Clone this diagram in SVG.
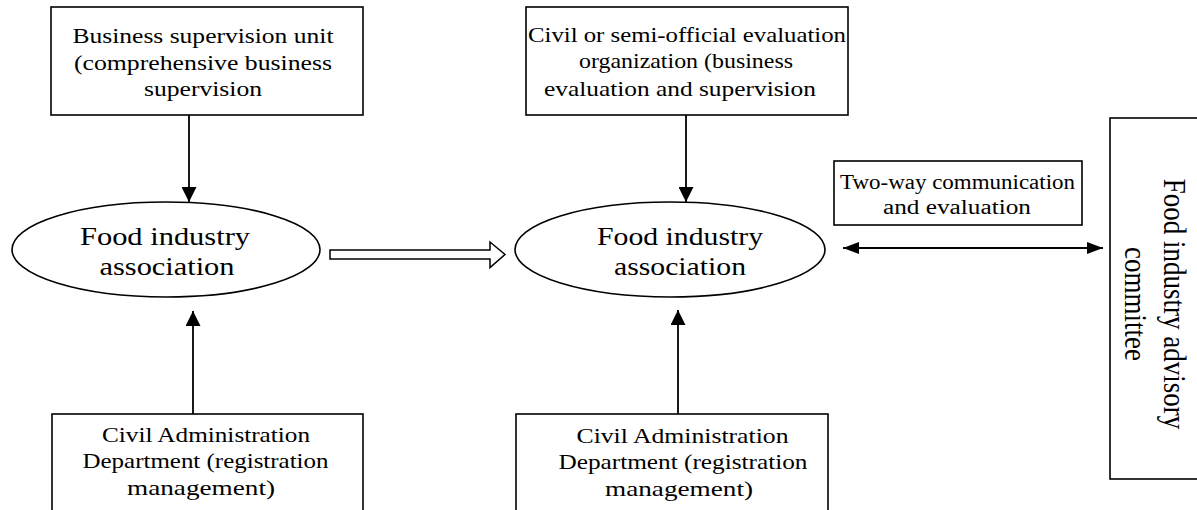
<svg xmlns="http://www.w3.org/2000/svg" width="1197" height="510" viewBox="0 0 1197 510">
  <style>
    .box { fill: #fff; stroke: #000; stroke-width: 1.6; }
    .ell { fill: #fff; stroke: #000; stroke-width: 1.6; }
    .t { font-family: "Liberation Serif", "Times New Roman", serif; fill: #000; text-anchor: middle; }
    .s21 { font-size: 21px; }
    .s20 { font-size: 20px; }
    .s26 { font-size: 26px; }
    .conn { stroke: #000; stroke-width: 1.8; fill: none; }
  </style>
  <defs>
    <marker id="ah" viewBox="0 0 10 10" refX="10" refY="5" markerUnits="userSpaceOnUse" markerWidth="15" markerHeight="15" orient="auto-start-reverse">
      <path d="M0,0 L10,5 L0,10 z" fill="#000"/>
    </marker>
    <marker id="ah2" viewBox="0 0 10 10" refX="10" refY="5" markerUnits="userSpaceOnUse" markerWidth="16" markerHeight="12" orient="auto-start-reverse" preserveAspectRatio="none">
      <path d="M0,0 L10,5 L0,10 z" fill="#000"/>
    </marker>
  </defs>

  <g id="connectors">
    <line class="conn" x1="189" y1="115" x2="189" y2="202" marker-end="url(#ah)"/>
    <line class="conn" x1="686" y1="115" x2="686" y2="202" marker-end="url(#ah)"/>
    <line class="conn" x1="193" y1="414" x2="193" y2="311" marker-end="url(#ah)"/>
    <line class="conn" x1="678" y1="414" x2="678" y2="310" marker-end="url(#ah)"/>
    <line class="conn" x1="843" y1="248" x2="1103" y2="248" marker-start="url(#ah2)" marker-end="url(#ah2)"/>
    <polygon points="330,250 490,250 490,242 505,254.5 490,267.5 490,259 330,259" fill="#fff" stroke="#000" stroke-width="1.5" stroke-linejoin="miter"/>
  </g>

  <g id="business-supervision-unit">
    <rect class="box" x="51" y="7" width="312" height="108"/>
    <text class="t s21" x="203" y="43" textLength="261" lengthAdjust="spacingAndGlyphs">Business supervision unit</text>
    <text class="t s21" x="203" y="70" textLength="258" lengthAdjust="spacingAndGlyphs">(comprehensive business</text>
    <text class="t s21" x="203" y="96" textLength="118" lengthAdjust="spacingAndGlyphs">supervision</text>
  </g>

  <g id="evaluation-organization">
    <rect class="box" x="526" y="7" width="322" height="108"/>
    <text class="t s21" x="687" y="42" textLength="318" lengthAdjust="spacingAndGlyphs">Civil or semi-official evaluation</text>
    <text class="t s21" x="686" y="68" textLength="214" lengthAdjust="spacingAndGlyphs">organization (business</text>
    <text class="t s21" x="680" y="96" textLength="272" lengthAdjust="spacingAndGlyphs">evaluation and supervision</text>
  </g>

  <g id="food-association-1">
    <ellipse class="ell" cx="166" cy="249.5" rx="154" ry="47.5"/>
    <text class="t s26" x="165" y="245" textLength="170" lengthAdjust="spacingAndGlyphs">Food industry</text>
    <text class="t s26" x="167" y="275" textLength="135" lengthAdjust="spacingAndGlyphs">association</text>
  </g>

  <g id="food-association-2">
    <ellipse class="ell" cx="670" cy="249.5" rx="155" ry="47.5"/>
    <text class="t s26" x="680" y="245" textLength="166" lengthAdjust="spacingAndGlyphs">Food industry</text>
    <text class="t s26" x="680" y="275" textLength="132" lengthAdjust="spacingAndGlyphs">association</text>
  </g>

  <g id="civil-admin-1">
    <rect class="box" x="52" y="414" width="311" height="100"/>
    <text class="t s21" x="206" y="442" textLength="208" lengthAdjust="spacingAndGlyphs">Civil Administration</text>
    <text class="t s21" x="205.5" y="468" textLength="246" lengthAdjust="spacingAndGlyphs">Department (registration</text>
    <text class="t s21" x="201" y="495" textLength="148" lengthAdjust="spacingAndGlyphs">management)</text>
  </g>

  <g id="civil-admin-2">
    <rect class="box" x="516" y="414" width="312" height="100"/>
    <text class="t s21" x="682.5" y="443" textLength="212" lengthAdjust="spacingAndGlyphs">Civil Administration</text>
    <text class="t s21" x="683" y="469" textLength="249" lengthAdjust="spacingAndGlyphs">Department (registration</text>
    <text class="t s21" x="679" y="496" textLength="148" lengthAdjust="spacingAndGlyphs">management)</text>
  </g>

  <g id="two-way-label">
    <rect class="box" x="834" y="161" width="248" height="64"/>
    <text class="t s20" x="957.5" y="189" textLength="235" lengthAdjust="spacingAndGlyphs">Two-way communication</text>
    <text class="t s20" x="957" y="214" textLength="148" lengthAdjust="spacingAndGlyphs">and evaluation</text>
  </g>

  <g id="advisory-committee">
    <rect class="box" x="1110" y="118" width="100" height="361"/>
    <g transform="translate(1164,304) scale(1.2,1) rotate(90)">
      <text class="t" style="font-size:27px" x="0" y="0">Food industry advisory</text>
      <text class="t" style="font-size:27px" x="0" y="32.5">committee</text>
    </g>
  </g>
</svg>
